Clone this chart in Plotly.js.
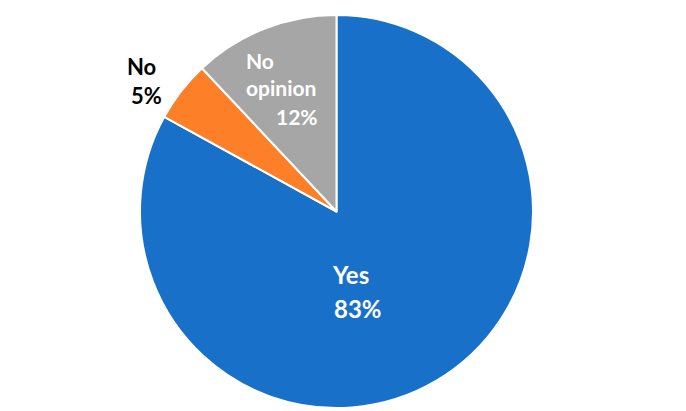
<!DOCTYPE html>
<html><head><meta charset="utf-8">
<script src="https://cdn.plot.ly/plotly-3.0.1.min.js"></script>
<style>html,body{margin:0;padding:0;background:#fff}#chart{width:686px;height:411px}</style>
</head><body><div id="chart"></div>
<script>
// data
const categories = ['Yes', 'No', 'No opinion'];
const labelText = ['Yes', 'No', 'No<br>opinion'];
const values = [83, 5, 12];

// style
const colors = ['#1870C8', '#FD7F27', '#A6A6A6'];
const textColors = ['#ffffff', '#000000', '#ffffff'];
const fontSizes = [24, 22, 21];
// label block spots and percent centres, in pixels of the 686x411 page
const labelSpots = [[350, 274, 'center'], [141, 66, 'center'], [245, 74, 'left']];
const pctSpots = [[358, 308], [146, 95], [297, 116]];

const W = 686, H = 411;
const FONT = 'Lato, "Open Sans", sans-serif';

const trace = {
  type: 'pie',
  labels: categories,
  values: values,
  textinfo: 'none',
  sort: false,
  direction: 'clockwise',
  rotation: 0,
  marker: {colors: colors, line: {color: '#ffffff', width: 2}},
  domain: {x: [0.204, 0.777], y: [0.0073, 0.9635]},
  hoverinfo: 'none',
  showlegend: false
};

const annotations = [];
categories.forEach((c, i) => {
  const font = {family: FONT, size: fontSizes[i], color: textColors[i], weight: 'bold'};
  const p = labelSpots[i];
  annotations.push({text: labelText[i], xref: 'paper', yref: 'paper', x: p[0] / W, y: 1 - p[1] / H,
    xanchor: p[2], yanchor: 'middle', align: p[2], showarrow: false, font: font, borderpad: 0});
  const q = pctSpots[i];
  annotations.push({text: values[i] + '%', xref: 'paper', yref: 'paper', x: q[0] / W, y: 1 - q[1] / H,
    xanchor: 'center', yanchor: 'middle', showarrow: false, font: font, borderpad: 0});
});

Plotly.newPlot('chart', [trace], {
  width: W, height: H,
  margin: {l: 0, r: 0, t: 0, b: 0},
  paper_bgcolor: '#ffffff',
  showlegend: false,
  annotations: annotations
}, {displayModeBar: false, staticPlot: true});
</script></body></html>
